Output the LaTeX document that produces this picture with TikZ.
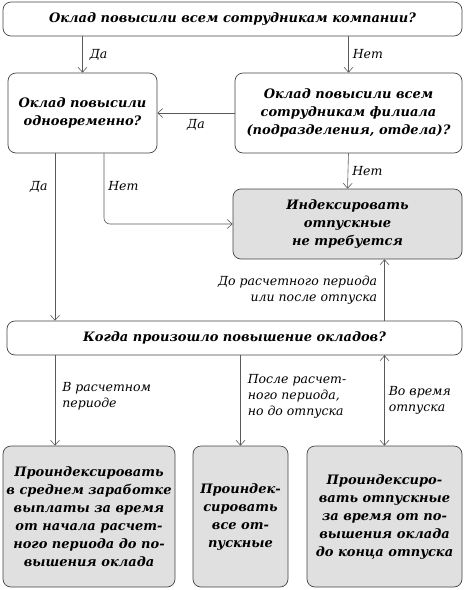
\documentclass[tikz,border=0pt]{standalone}
\usepackage{fontspec}
\setmainfont{DejaVu Serif}
\usetikzlibrary{arrows.meta,calc}
\definecolor{boxgray}{HTML}{E0E0E0}
\definecolor{linegray}{HTML}{5A5A5A}
\definecolor{framegray}{HTML}{444444}
\begin{document}
\begin{tikzpicture}[x=1pt,y=1pt,
		box/.style={draw=framegray, line width=0.7pt, rounded corners=8pt, align=center, inner sep=0pt,
			font=\fontsize{13}{18}\selectfont\bfseries\itshape},
		grey/.style={box, fill=boxgray},
		lbl/.style={font=\fontsize{12.5}{16}\selectfont\itshape, inner sep=4pt},
		link/.style={-{Straight Barb[length=5pt,width=9pt]}, draw=linegray, line width=0.6pt}]
		\useasboundingbox (0,0) rectangle (465,-590);
		\node[box, minimum width=459, minimum height=34] (q1) at (232.5,-19)
			{Оклад повысили всем сотрудникам компании?};
		\node[box, minimum width=149, minimum height=80] (q2) at (82.5,-113)
			{Оклад повысили\\одновременно?};
		\node[box, minimum width=227, minimum height=80] (q3) at (348.5,-113)
			{Оклад повысили всем\\сотрудникам филиала\\(подразделения, отдела)?};
		\node[grey, minimum width=229, minimum height=70] (no) at (347.5,-224)
			{Индексировать\\отпускные\\не требуется};
		\node[box, minimum width=455, minimum height=34] (q4) at (234.5,-338)
			{Когда произошло повышение окладов?};
		\node[grey, minimum width=172, minimum height=141] (r1) at (89,-516.5)
			{Проиндексировать\\в среднем заработке\\выплаты за время\\от начала расчет-\\ного периода до по-\\вышения оклада};
		\node[grey, minimum width=95, minimum height=141] (r2) at (240.5,-516.5)
			{Проиндек-\\сировать\\все от-\\пускные};
		\node[grey, minimum width=155, minimum height=141] (r3) at (384.5,-516.5)
			{Проиндексиро-\\вать отпускные\\за время от по-\\вышения оклада\\до конца отпуска};
		\coordinate (c1) at (55,0);
		\coordinate (c2) at (104,0);
		\path[link]
		(q2.north |- q1.south) edge node[lbl, right=3pt] (l1) {Да} (q2.north)
		(q3.north |- q1.south) edge node[lbl, right] (l2) {Нет} (q3.north)
		(q3.west) edge node[lbl, below=2pt] (l3) {Да} (q2.east)
		(q2.south -| c1) edge node[lbl, left=3pt, pos=0.2] (l4) {Да} (q4.north -| c1)
		(q3.south) edge node[lbl, right] (l5) {Нет} (no.north)
		(q4.north -| r3.north) edge node[lbl, left=3pt, align=right] (l6) {До расчетного периода\\или после отпуска} (no.south -| r3.north)
		(q4.south -| c1) edge node[lbl, right=3pt, align=left, pos=0.45] (l7) {В расчетном\\периоде} (r1.north -| c1)
		(q4.south -| r2.north) edge node[lbl, right=3pt, align=left, pos=0.45] (l8) {После расчет-\\ного периода,\\но до отпуска} (r2.north)
		(q4.south -| r3.north) edge node[lbl, right, align=left] (l9) {Во время\\отпуска} (r3.north);
		\draw[link, rounded corners=6pt] (q2.south -| c2) |- node[lbl, right, pos=0.23] (l10) {Нет} (no.west);
	\end{tikzpicture}
\end{document}
